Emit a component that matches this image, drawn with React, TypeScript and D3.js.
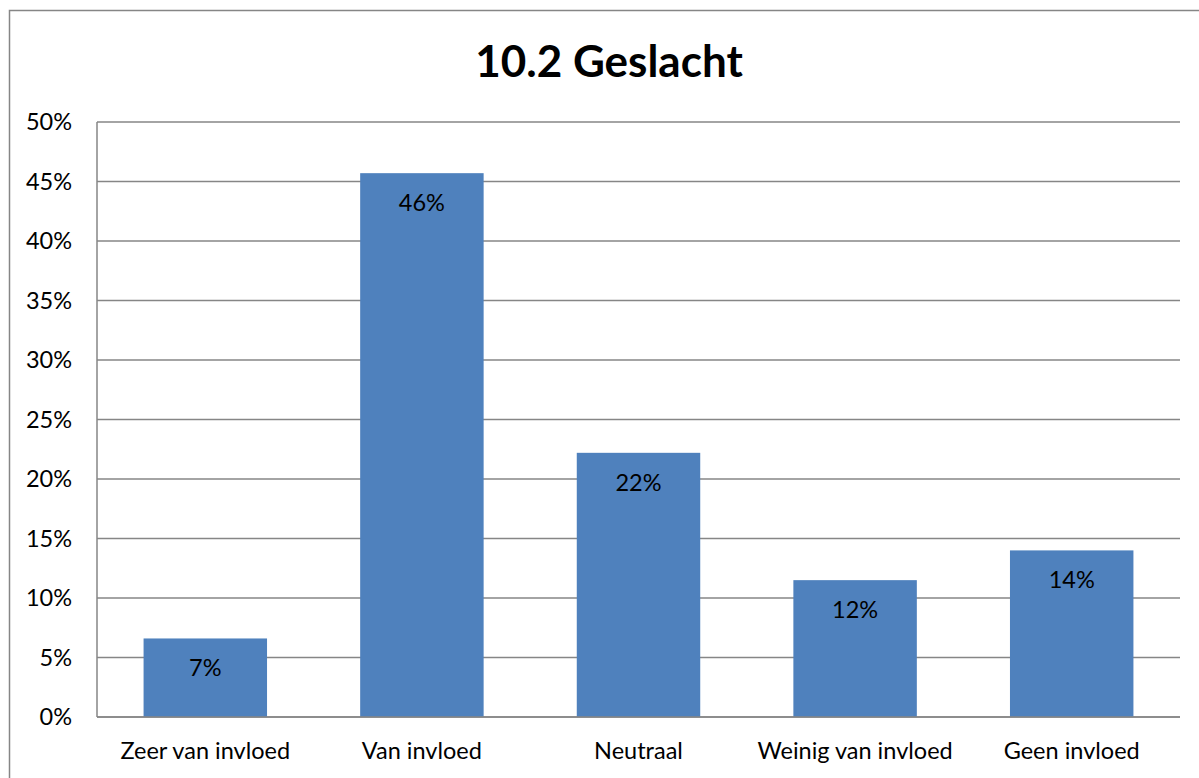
import React, { useRef, useEffect } from 'react';
import * as d3 from 'd3';

const categories = ['Zeer van invloed', 'Van invloed', 'Neutraal', 'Weinig van invloed', 'Geen invloed'];
const values = [6.6, 45.7, 22.2, 11.5, 14.0];
const valueLabels = ['7%', '46%', '22%', '12%', '14%'];
const yTicks = [0, 5, 10, 15, 20, 25, 30, 35, 40, 45, 50];

export default function App() {
    const svgRef = useRef<SVGSVGElement>(null);

    useEffect(() => {
        if (!svgRef.current) return;
        const width = 1199;
        const height = 778;
        const margin = { top: 122, right: 19, bottom: 61, left: 97 };
        const innerWidth = width - margin.left - margin.right;
        const innerHeight = height - margin.top - margin.bottom;
        const font = 'Lato, Carlito, Calibri, sans-serif';
        const grid = '#868686';
        const labelSize = '23.5px';

        const svg = d3.select(svgRef.current);
        svg.selectAll('*').remove();

        // outer chart border
        svg.append('rect')
            .attr('x', 9.5)
            .attr('y', 10.5)
            .attr('width', width + 20)
            .attr('height', height + 20)
            .attr('fill', '#fff')
            .attr('stroke', grid)
            .attr('stroke-width', 1.5);

        svg.append('text')
            .attr('x', 609)
            .attr('y', 77)
            .attr('text-anchor', 'middle')
            .attr('font-family', font)
            .attr('font-weight', 'bold')
            .attr('font-size', '44px')
            .attr('fill', '#000')
            .text('10.2 Geslacht');

        const g = svg.append('g')
            .attr('transform', `translate(${margin.left},${margin.top})`);

        const x = d3.scaleBand<string>()
            .domain(categories)
            .range([0, innerWidth])
            .paddingInner(0.43)
            .paddingOuter(0.215);

        const y = d3.scaleLinear()
            .domain([0, 50])
            .range([innerHeight, 0]);

        // gridlines
        g.selectAll('.grid')
            .data(yTicks)
            .enter()
            .append('line')
            .attr('x1', 0)
            .attr('x2', innerWidth)
            .attr('y1', d => y(d))
            .attr('y2', d => y(d))
            .attr('stroke', grid)
            .attr('stroke-width', 1.5);

        // y axis line
        g.append('line')
            .attr('x1', 0)
            .attr('x2', 0)
            .attr('y1', 0)
            .attr('y2', innerHeight)
            .attr('stroke', grid)
            .attr('stroke-width', 1.5);

        g.selectAll('.ytick')
            .data(yTicks)
            .enter()
            .append('text')
            .attr('x', -25)
            .attr('y', d => y(d))
            .attr('dy', '0.35em')
            .attr('text-anchor', 'end')
            .attr('font-family', font)
            .attr('font-size', labelSize)
            .attr('fill', '#000')
            .text(d => `${d}%`);

        g.selectAll('.bar')
            .data(values)
            .enter()
            .append('rect')
            .attr('x', (d, i) => x(categories[i]) as number)
            .attr('y', d => y(d))
            .attr('width', x.bandwidth())
            .attr('height', d => innerHeight - y(d))
            .attr('fill', '#4F81BD');

        // redraw baseline over bars
        g.append('line')
            .attr('x1', 0)
            .attr('x2', innerWidth)
            .attr('y1', innerHeight)
            .attr('y2', innerHeight)
            .attr('stroke', grid)
            .attr('stroke-width', 1.5);

        g.selectAll('.vlabel')
            .data(values)
            .enter()
            .append('text')
            .attr('x', (d, i) => (x(categories[i]) as number) + x.bandwidth() / 2)
            .attr('y', d => y(d) + 38)
            .attr('text-anchor', 'middle')
            .attr('font-family', font)
            .attr('font-size', labelSize)
            .attr('fill', '#000')
            .text((d, i) => valueLabels[i]);

        g.selectAll('.xlabel')
            .data(categories)
            .enter()
            .append('text')
            .attr('x', d => (x(d) as number) + x.bandwidth() / 2)
            .attr('y', innerHeight + 42)
            .attr('text-anchor', 'middle')
            .attr('font-family', font)
            .attr('font-size', labelSize)
            .attr('fill', '#000')
            .text(d => d);
    }, []);

    return (
        <svg
            ref={svgRef}
            width={1199}
            height={778}
            style={{ position: 'absolute', left: 0, top: 0, background: '#fff' }}
        />
    );
}
